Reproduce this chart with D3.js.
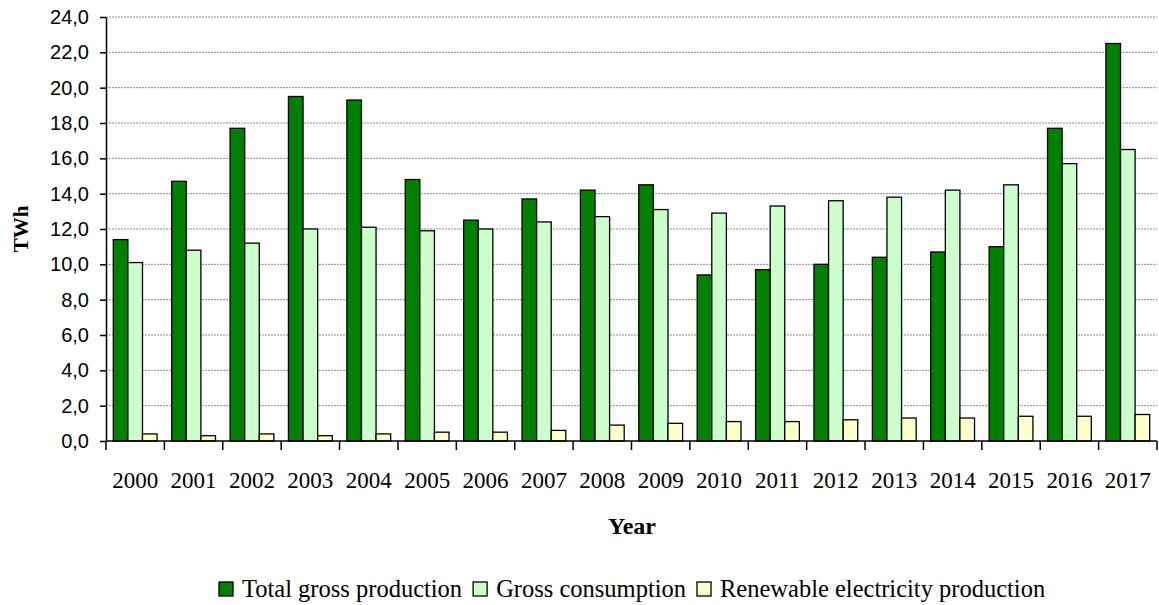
<!DOCTYPE html>
<html>
<head>
<meta charset="utf-8">
<script src="https://cdn.jsdelivr.net/npm/d3@7"></script>
<style>
  body { margin: 0; background: #fff; }
  svg { display: block; }
</style>
</head>
<body>
<svg id="chart" width="1159" height="605"></svg>
<script>
// data
var years = ["2000", "2001", "2002", "2003", "2004", "2005", "2006", "2007", "2008",
             "2009", "2010", "2011", "2012", "2013", "2014", "2015", "2016", "2017"];
var seriesNames = ["Total gross production", "Gross consumption", "Renewable electricity production"];
var totalProduction = [11.4, 14.7, 17.7, 19.5, 19.3, 14.8, 12.5, 13.7, 14.2,
                       14.5, 9.4, 9.7, 10.0, 10.4, 10.7, 11.0, 17.7, 22.5];
var grossConsumption = [10.1, 10.8, 11.2, 12.0, 12.1, 11.9, 12.0, 12.4, 12.7,
                        13.1, 12.9, 13.3, 13.6, 13.8, 14.2, 14.5, 15.7, 16.5];
var renewable = [0.4, 0.3, 0.4, 0.3, 0.4, 0.5, 0.5, 0.6, 0.9,
                 1.0, 1.1, 1.1, 1.2, 1.3, 1.3, 1.4, 1.4, 1.5];
var yTicks = [0, 2, 4, 6, 8, 10, 12, 14, 16, 18, 20, 22, 24];

var colors = ["#008000", "#CCFFCC", "#FFFFCC"];
var allSeries = [totalProduction, grossConsumption, renewable];

var svg = d3.select("#chart");
var plotLeft = 106, plotRight = 1157, plotTop = 17, plotBottom = 441;

var x = d3.scaleBand().domain(years).range([plotLeft, plotRight]);
var xInner = d3.scaleBand().domain(d3.range(3)).range([0, x.bandwidth()]).paddingOuter(0.5);
var y = d3.scaleLinear().domain([0, 24]).range([plotBottom, plotTop]);

// grid
svg.append("g")
  .selectAll("line")
  .data(yTicks.slice(1))
  .enter().append("line")
  .attr("x1", plotLeft).attr("x2", plotRight)
  .attr("y1", function(d) { return y(d); })
  .attr("y2", function(d) { return y(d); })
  .style("stroke", "#8c8c8c")
  .style("stroke-width", 1)
  .style("stroke-dasharray", "2,1");

// bars
var groups = svg.append("g")
  .selectAll("g")
  .data(years)
  .enter().append("g")
  .attr("transform", function(d) { return "translate(" + x(d) + ",0)"; });

groups.selectAll("rect")
  .data(function(d, i) { return allSeries.map(function(s, k) { return { k: k, v: s[i] }; }); })
  .enter().append("rect")
  .attr("x", function(d) { return xInner(d.k); })
  .attr("width", xInner.bandwidth())
  .attr("y", function(d) { return y(d.v); })
  .attr("height", function(d) { return y(0) - y(d.v); })
  .style("fill", function(d) { return colors[d.k]; })
  .style("stroke", "#000")
  .style("stroke-width", 1.3);

// y axis
var yAxis = svg.append("g")
  .attr("transform", "translate(" + plotLeft + ",0)")
  .call(d3.axisLeft(y).tickValues(yTicks).tickSize(6).tickSizeOuter(0)
    .tickPadding(11)
    .tickFormat(function(d) { return d3.format(".1f")(d).replace(".", ","); }));
yAxis.select(".domain").style("stroke", "#000").style("stroke-width", 1.5);
yAxis.selectAll(".tick line").style("stroke", "#000").style("stroke-width", 1.5);
yAxis.selectAll("text")
  .style("font-family", "'Liberation Sans', Arial, sans-serif")
  .style("font-size", "20px")
  .style("fill", "#000");

// x axis
var xAxis = svg.append("g")
  .attr("transform", "translate(0," + plotBottom + ")");
xAxis.append("line")
  .attr("x1", plotLeft).attr("x2", plotRight)
  .style("stroke", "#000").style("stroke-width", 1.5);
xAxis.selectAll(".tk")
  .data(years.concat(["end"]))
  .enter().append("line")
  .attr("x1", function(d) { return d === "end" ? plotRight : x(d); })
  .attr("x2", function(d) { return d === "end" ? plotRight : x(d); })
  .attr("y1", 0).attr("y2", 9)
  .style("stroke", "#000").style("stroke-width", 1.5);
xAxis.selectAll("text")
  .data(years)
  .enter().append("text")
  .attr("x", function(d) { return x(d) + x.bandwidth() / 2; })
  .attr("y", 47)
  .attr("text-anchor", "middle")
  .style("font-family", "'Liberation Serif', 'Times New Roman', serif")
  .style("font-size", "23px")
  .text(function(d) { return d; });

// axis titles
svg.append("text")
  .attr("x", 632).attr("y", 534)
  .attr("text-anchor", "middle")
  .style("font-family", "'Liberation Serif', 'Times New Roman', serif")
  .style("font-size", "24px")
  .style("font-weight", "bold")
  .text("Year");

svg.append("text")
  .attr("text-anchor", "middle")
  .attr("transform", "translate(28,229)rotate(-90)")
  .style("font-family", "'Liberation Serif', 'Times New Roman', serif")
  .style("font-size", "21px")
  .style("font-weight", "bold")
  .text("TWh");

// legend
var legend = svg.append("g");
var lx = 219;
seriesNames.forEach(function(name, k) {
  legend.append("rect")
    .attr("x", lx).attr("y", 582)
    .attr("width", 14).attr("height", 14)
    .style("fill", colors[k])
    .style("stroke", "#000")
    .style("stroke-width", 1.3);
  var t = legend.append("text")
    .attr("x", lx + 23).attr("y", 597)
    .style("font-family", "'Liberation Serif', 'Times New Roman', serif")
    .style("font-size", "24.5px")
    .text(name);
  lx = lx + 23 + t.node().getComputedTextLength() + 11;
});
</script>
</body>
</html>
